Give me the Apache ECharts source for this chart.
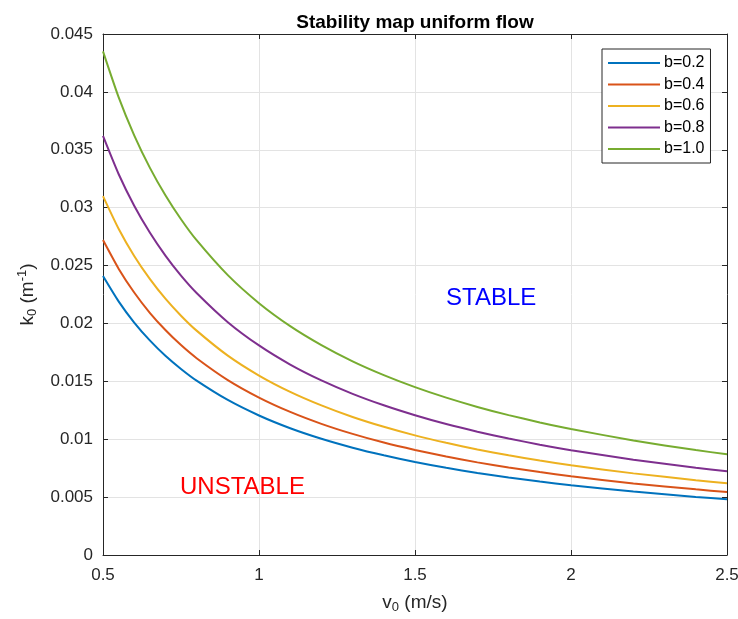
<!DOCTYPE html>
<html><head><meta charset="utf-8">
<script src="https://cdn.jsdelivr.net/npm/echarts@6/dist/echarts.min.js"></script>
<style>html,body{margin:0;padding:0;background:#fff}#c{width:738px;height:619px}</style>
</head><body><div id="c"></div>
<script>
const vValues = [0.5,0.55,0.6,0.65,0.7,0.75,0.8,0.9,1.0,1.1,1.2,1.3,1.4,1.5,1.6,1.7,1.8,1.9,2.0,2.2,2.4,2.5];
const seriesNames = ['b=0.2','b=0.4','b=0.6','b=0.8','b=1.0'];
const k_b02 = [0.02410,0.02191,0.02008,0.01854,0.01721,0.01607,0.01506,0.01339,0.01205,0.01095,0.01004,0.00927,0.00861,0.00803,0.00753,0.00709,0.00669,0.00634,0.00603,0.00548,0.00502,0.00482];
const k_b04 = [0.02720,0.02473,0.02267,0.02092,0.01943,0.01813,0.01700,0.01511,0.01360,0.01236,0.01133,0.01046,0.00971,0.00907,0.00850,0.00800,0.00756,0.00716,0.00680,0.00618,0.00567,0.00544];
const k_b06 = [0.03100,0.02818,0.02583,0.02385,0.02214,0.02067,0.01938,0.01722,0.01550,0.01409,0.01292,0.01192,0.01107,0.01033,0.00969,0.00912,0.00861,0.00816,0.00775,0.00705,0.00646,0.00620];
const k_b08 = [0.03620,0.03291,0.03017,0.02785,0.02586,0.02413,0.02263,0.02011,0.01810,0.01645,0.01508,0.01392,0.01293,0.01207,0.01131,0.01065,0.01006,0.00953,0.00905,0.00823,0.00754,0.00724];
const k_b10 = [0.04350,0.03955,0.03625,0.03346,0.03107,0.02900,0.02719,0.02417,0.02175,0.01977,0.01813,0.01673,0.01554,0.01450,0.01359,0.01279,0.01208,0.01145,0.01088,0.00989,0.00906,0.00870];
const annotations = [
  {text:'STABLE', v:1.744, k:0.0222},
  {text:'UNSTABLE', v:0.947, k:0.0058}
];
const xMin=0.5, xMax=2.5, xStep=0.5, yMin=0, yMax=0.045, yStep=0.005;

const allK=[k_b02,k_b04,k_b06,k_b08,k_b10];
const colors=['#0072BD','#D95319','#EDB120','#7E2F8E','#77AC30'];
const font='"Liberation Sans", Arial, Helvetica, sans-serif';
const txt='#262626';
const chart=echarts.init(document.getElementById('c'));
const fmt=v=>String(parseFloat(v.toFixed(4)));
const axisCommon={
  axisLine:{show:true,onZero:false,lineStyle:{color:txt,width:1}},
  axisTick:{show:true,inside:true,length:5,lineStyle:{color:txt}},
  splitLine:{show:false}
};
const series=allK.map((arr,i)=>({
  name:seriesNames[i],type:'line',showSymbol:false,symbol:'none',
  data:vValues.map((v,j)=>[v,arr[j]]),
  lineStyle:{color:colors[i],width:2},itemStyle:{color:colors[i]},
  smooth:0.2,z:3
}));
series.push({
  type:'scatter',symbolSize:0,silent:true,itemStyle:{opacity:1},
  emphasis:{disabled:true},
  data:annotations.map(a=>({value:[a.v,a.k],label:{show:true,opacity:1,position:'inside',formatter:a.text,fontSize:24,fontFamily:font,color:a.text==='STABLE'?'#0000ff':'#ff0000'}})),
  z:4
});
chart.setOption({
  animation:false,
  backgroundColor:'#fff',
  title:{text:'Stability map uniform flow',left:410,textAlign:'center',top:8,textStyle:{fontFamily:font,fontSize:19,fontWeight:'bold',color:'#000'}},
  grid:{left:103,right:11,top:34,bottom:64,outerBoundsMode:'none',containLabel:false},
  legend:{
    data:seriesNames,orient:'vertical',left:602,top:49,
    backgroundColor:'#fff',borderColor:txt,borderWidth:1,padding:[6,6,6,6],
    icon:'rect',itemWidth:52,itemHeight:2,itemGap:5.5,
    textStyle:{fontFamily:font,fontSize:16,color:'#000',lineHeight:16,padding:[0,0,0,-1]}
  },
  xAxis:[
    Object.assign({type:'value',min:xMin,max:xMax,interval:xStep,position:'bottom',
      name:'{a|v}{s|0}{a| (m/s)}',nameLocation:'middle',nameGap:36,
      nameTextStyle:{rich:{a:{fontFamily:font,fontSize:19,color:txt},s:{fontFamily:font,fontSize:13,color:txt,padding:[10,0,0,0]}}},
      axisLabel:{fontFamily:font,fontSize:17,color:txt,margin:12,formatter:fmt}},axisCommon,
      {splitLine:{show:true,lineStyle:{color:'#e3e3e3',width:1}}}),
    Object.assign({type:'value',min:xMin,max:xMax,interval:xStep,position:'top',axisLabel:{show:false}},axisCommon)
  ],
  yAxis:[
    Object.assign({type:'value',min:yMin,max:yMax,interval:yStep,position:'left',
      name:'{a|k}{s|0}{a| (m}{p|-1}{a|)}',nameLocation:'middle',nameGap:64,nameRotate:90,
      nameTextStyle:{rich:{a:{fontFamily:font,fontSize:19,color:txt},s:{fontFamily:font,fontSize:13,color:txt,padding:[10,0,0,0]},p:{fontFamily:font,fontSize:13,color:txt,padding:[0,0,10,0]}}},
      axisLabel:{fontFamily:font,fontSize:17,color:txt,margin:10,formatter:fmt}},axisCommon,
      {splitLine:{show:true,lineStyle:{color:'#e3e3e3',width:1}}}),
    Object.assign({type:'value',min:yMin,max:yMax,interval:yStep,position:'right',axisLabel:{show:false}},axisCommon)
  ],
  series:series
});
</script></body></html>
